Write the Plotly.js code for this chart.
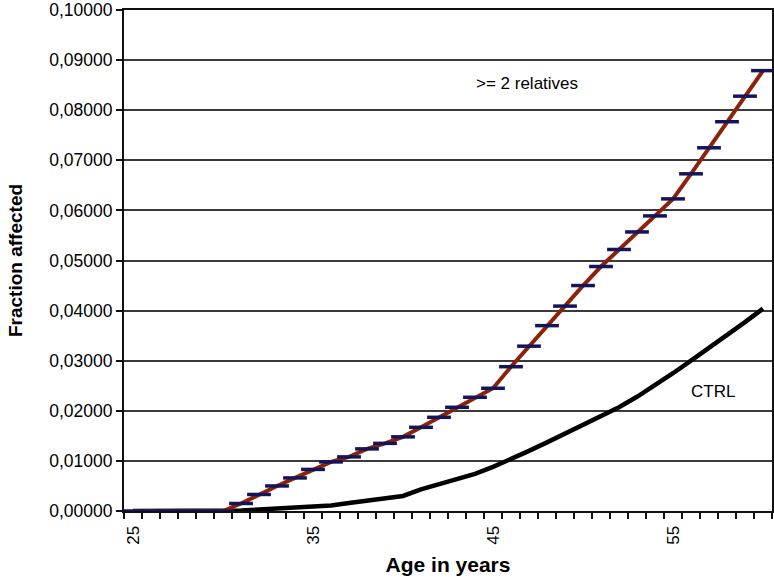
<!DOCTYPE html>
<html>
<head>
<meta charset="utf-8">
<script src="https://cdn.plot.ly/plotly-3.0.1.min.js"></script>
<style>html,body{margin:0;padding:0;background:#fff;}#chart{width:774px;height:580px;}</style>
</head>
<body>
<div id="chart"></div>
<script>
var ages = [25,26,27,28,29,30,31,32,33,34,35,36,37,38,39,40,41,42,43,44,45,46,47,48,49,50,51,52,53,54,55,56,57,58,59,60];
var relatives2 = [0,0,0,0,0,0,0.0015,0.0033,0.0050,0.0066,0.0083,0.0098,0.0108,0.0124,0.0135,0.0148,0.0167,0.0187,0.0207,0.0227,0.0245,0.0288,0.0329,0.0370,0.0409,0.0450,0.0488,0.0522,0.0557,0.0589,0.0623,0.0673,0.0725,0.0777,0.0828,0.0879];
var ctrl = [0,0,0,0,0,0,0.0001,0.0003,0.0005,0.0006,0.0007,0.0011,0.0016,0.0020,0.0025,0.0030,0.0043,0.0053,0.0063,0.0074,0.0088,0.0103,0.0120,0.0137,0.0154,0.0171,0.0189,0.0207,0.0228,0.0251,0.0275,0.0300,0.0325,0.0351,0.0377,0.0404];
var xTickVals = [25,35,45,55];
var xTickText = ['25','35','45','55'];
var yTickVals = [0,0.01,0.02,0.03,0.04,0.05,0.06,0.07,0.08,0.09,0.10];

var fontFam = 'Liberation Sans, Arial, sans-serif';
var traces = [
  {x: ages, y: ctrl, type: 'scatter', mode: 'lines', name: 'CTRL',
   line: {color: '#000000', width: 4.5}},
  {x: ages, y: relatives2, type: 'scatter', mode: 'lines+markers', name: '>= 2 relatives',
   line: {color: '#8b2209', width: 4},
   marker: {symbol: 'line-ew', size: 17, color: '#14145a', line: {color: '#14145a', width: 3.5}}}
];
var layout = {
  width: 774, height: 580,
  margin: {l: 124, r: 2, t: 10, b: 69},
  paper_bgcolor: '#ffffff', plot_bgcolor: '#ffffff',
  separators: ',.',
  showlegend: false,
  font: {family: fontFam, color: '#000', size: 17},
  xaxis: {
    range: [24.5, 60.5], tickmode: 'array', tickvals: xTickVals, ticktext: xTickText,
    tickangle: -90, ticks: '', showgrid: false, zeroline: false,
    showline: true, linecolor: '#111', linewidth: 2, mirror: true,
    tickfont: {size: 17, family: fontFam}, ticklabelstandoff: 6,
    minor: {tickmode: 'linear', tick0: 24.5, dtick: 1, ticks: 'outside', ticklen: 6, tickwidth: 1.5, tickcolor: '#111', showgrid: false},
    title: {text: '<b>Age in years</b>', font: {size: 21, family: fontFam}, standoff: 14}
  },
  yaxis: {
    range: [0, 0.1], tickmode: 'array', tickvals: yTickVals, tickformat: '.5f',
    ticks: 'outside', ticklen: 6, tickwidth: 2, tickcolor: '#111',
    showgrid: true, gridcolor: '#3a3a3a', gridwidth: 2, zeroline: false,
    showline: true, linecolor: '#111', linewidth: 2, mirror: true,
    tickfont: {size: 17.5, family: fontFam},
    title: {text: '<b>Fraction affected</b>', font: {size: 19, family: fontFam}, standoff: 22}
  },
  annotations: [
    {x: 46.9, y: 0.0854, xref: 'x', yref: 'y', text: '>= 2 relatives', showarrow: false, font: {size: 17, family: fontFam}},
    {x: 57.2, y: 0.0238, xref: 'x', yref: 'y', text: 'CTRL', showarrow: false, font: {size: 17, family: fontFam}}
  ]
};
Plotly.newPlot('chart', traces, layout, {displayModeBar: false, staticPlot: true});
</script>
</body>
</html>
